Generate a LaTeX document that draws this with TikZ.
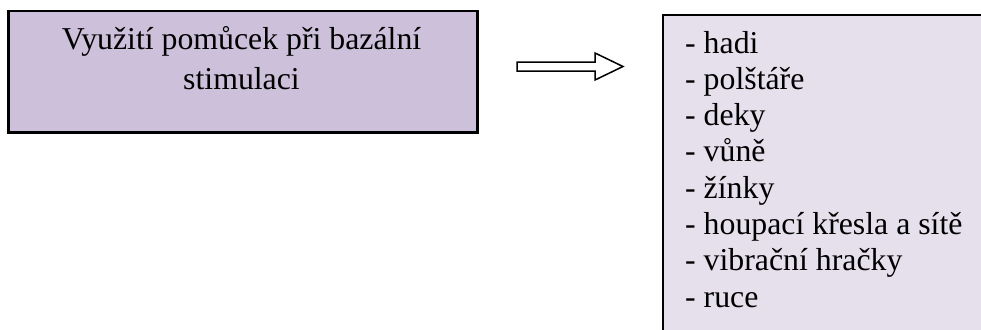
\documentclass[tikz,border=0pt]{standalone}
\usepackage{fontspec}
\setmainfont{Liberation Serif}
\definecolor{lavdark}{RGB}{204,192,218}
\definecolor{lavlight}{RGB}{229,224,236}
\begin{document}
\begin{tikzpicture}[x=1pt,y=-1pt,
  boxL/.style={draw=black, line width=2.5pt, fill=lavdark, rectangle, inner sep=0pt, anchor=north west},
  boxR/.style={draw=black, line width=2pt, fill=lavlight},
  txt/.style={inner sep=0pt, font=\fontsize{31.8}{40}\selectfont},
  listtxt/.style={inner sep=0pt, align=left, font=\fontsize{31.8}{36.3}\selectfont},
  hollowarrow/.style={draw=black, line width=1.5pt, fill=white, line join=miter}]
\useasboundingbox (0,0) rectangle (981,329);
\clip (0,0) rectangle (981,329);
\node[boxL, minimum width=469pt, minimum height=121pt] (lbox) at (7,10) {};
\node[txt, align=center, anchor=base] (ltext) at (241.5,89) {Využití pomůcek při bazální\\stimulaci};
\draw[boxR] (663,15) rectangle (1000,345);
\coordinate (rbox) at (663,15);
\node[listtxt, anchor=base west] (rtext) at (685,307.1) {- hadi\\- polštáře\\- deky\\- vůně\\- žínky\\- houpací křesla a sítě\\- vibrační hračky\\- ruce};
\coordinate (arrS) at (517,66.5);
\coordinate (arrT) at (623,66.5);
\draw[hollowarrow] (517,62) -- (595,62) -- (595,53) -- (arrT) -- (595,80) -- (595,71) -- (517,71) -- cycle;
\end{tikzpicture}
\end{document}
